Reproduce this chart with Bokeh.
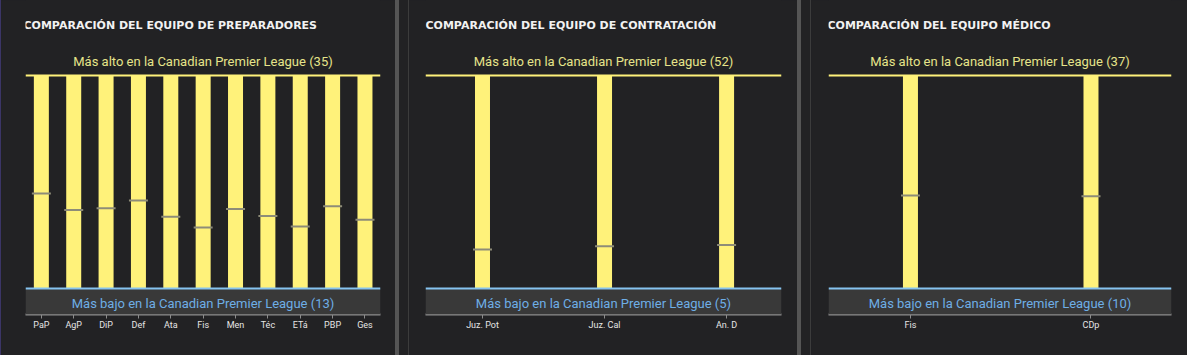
from bokeh.plotting import figure
from bokeh.models import (Range1d, FixedTicker, Label, Span, BoxAnnotation, Div,
                          GlobalInlineStyleSheet)
from bokeh.layouts import row
from bokeh.embed import file_html
from bokeh.resources import INLINE

# ---------------- data ----------------
coach_title = "COMPARACIÓN DEL EQUIPO DE PREPARADORES"
coach_cats = ["PaP", "AgP", "DiP", "Def", "Ata", "Fis", "Men", "Téc", "ETá", "PBP", "Ges"]
coach_vals = [22.8, 21.1, 21.3, 22.1, 20.4, 19.3, 21.2, 20.5, 19.4, 21.5, 20.1]
coach_low, coach_high = 13, 35

scout_title = "COMPARACIÓN DEL EQUIPO DE CONTRATACIÓN"
scout_cats = ["Juz. Pot", "Juz. Cal", "An. D"]
scout_vals = [13.6, 14.3, 14.6]
scout_low, scout_high = 5, 52

medic_title = "COMPARACIÓN DEL EQUIPO MÉDICO"
medic_cats = ["Fis", "CDp"]
medic_vals = [21.8, 21.7]
medic_low, medic_high = 10, 37

high_text = "Más alto en la Canadian Premier League ({})"
low_text = "Más bajo en la Canadian Premier League ({})"

# ---------------- style ----------------
BG = "#222224"
YELLOW = "#fff27a"
MARK = "#8e8c78"
BLUE_LINE = "#86c3f0"
BLUE_TEXT = "#6eaee6"
BOX = "#393939"
AXIS = "#8c8c8c"
H = 355


def panel(title, cats, vals, lo, hi, width, bl, br, pad_l, pad_r, title_dx):
    n = len(cats)
    rng = hi - lo
    y0 = lo - rng * 26 / 213
    y1 = hi + rng * 75 / 213
    x0, x1 = -pad_l, n - 1 + pad_r
    p = figure(width=width, height=H, x_range=Range1d(x0, x1), y_range=Range1d(y0, y1),
               output_backend="svg", toolbar_location=None, title=None,
               min_border_left=bl, min_border_right=br, min_border_top=0,
               min_border_bottom=41, background_fill_color=BG, border_fill_color=BG,
               outline_line_color=None)
    p.grid.visible = False
    p.yaxis.visible = False
    xs = list(range(n))
    frame_w = width - bl - br
    bar_w = 15 / (frame_w / (x1 - x0))

    p.add_layout(BoxAnnotation(top=lo, fill_color=BOX, fill_alpha=1, line_color=None))
    p.vbar(x=xs, bottom=lo, top=hi, width=bar_w, fill_color=YELLOW, line_color=None)
    p.scatter(x=xs, y=vals, marker="dash", size=19, line_color=MARK, line_width=2)
    p.add_layout(Span(location=hi, dimension="width", line_color=YELLOW, line_width=2))
    p.add_layout(Span(location=lo, dimension="width", line_color=BLUE_LINE, line_width=2))

    cx = (x0 + x1) / 2
    p.add_layout(Label(x=x0, y=y1, x_offset=title_dx, y_offset=-25, text=title,
                       text_font="DejaVu Sans", text_font_style="bold",
                       text_font_size="11px", text_color="#f2f2f2",
                       text_baseline="alphabetic", text_align="left"))
    p.add_layout(Label(x=cx, y=hi, y_offset=14, text=high_text.format(hi),
                       text_font="Roboto", text_font_size="13px", text_color="#e6e48a",
                       text_baseline="alphabetic", text_align="center"))
    p.add_layout(Label(x=cx, y=lo, y_offset=-14.5, text=low_text.format(lo),
                       text_font="Roboto", text_font_size="13px", text_color=BLUE_TEXT,
                       text_baseline="alphabetic", text_align="center"))

    ax = p.xaxis[0]
    ax.ticker = FixedTicker(ticks=xs)
    ax.major_label_overrides = {i: c for i, c in enumerate(cats)}
    ax.minor_tick_line_color = None
    ax.major_tick_in = 0
    ax.major_tick_out = 4
    ax.major_tick_line_color = AXIS
    ax.axis_line_color = AXIS
    ax.axis_line_width = 2
    ax.major_label_standoff = 1
    ax.major_label_text_font = "Roboto"
    ax.major_label_text_font_size = "9px"
    ax.major_label_text_color = "#e6e6e6"
    return p


p1 = panel(coach_title, coach_cats, coach_vals, coach_low, coach_high,
           394, 24, 15, 0.49, 0.48, -2)
p2 = panel(scout_title, scout_cats, scout_vals, scout_low, scout_high,
           388, 16, 16, 0.467, 0.45, 0)
p3 = panel(medic_title, medic_cats, medic_vals, medic_low, medic_high,
           376, 17, 16, 0.454, 0.446, -1)


def block(w, color):
    return Div(text="", width=w, height=H, margin=0, styles={"background-color": color})


layout = row([block(1, "#3b3566"), p1, block(4, "#555555"), block(9, BG),
              block(1, "#3c3c3c"), p2, block(4, "#555555"), block(9, BG),
              block(1, "#3c3c3c"), p3],
             spacing=0,
             stylesheets=[GlobalInlineStyleSheet(css="body{background-color:#222224;}")])

open("out.html", "w").write(file_html(layout, INLINE))
